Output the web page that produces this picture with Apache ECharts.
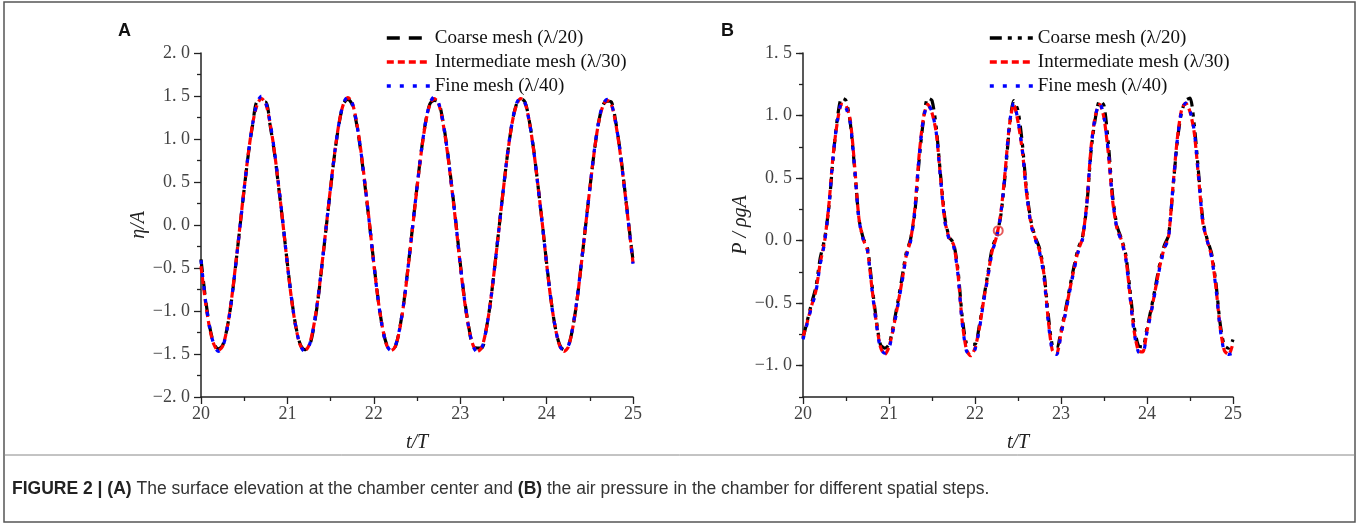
<!DOCTYPE html>
<html>
<head>
<meta charset="utf-8">
<script src="https://cdn.jsdelivr.net/npm/echarts@6/dist/echarts.min.js"></script>
<style>
html,body{margin:0;padding:0;background:#fff;}
#chart{width:1359px;height:525px;}
</style>
</head>
<body>
<div id="chart"></div>
<script>
// ---- data (t/T from 20 to 25, step 0.05) ----
const T_START = 20;
const T_STEP = 0.05;
const xTicks = [20, 21, 22, 23, 24, 25];
const legendNames = ['Coarse mesh (λ/20)', 'Intermediate mesh (λ/30)', 'Fine mesh (λ/40)'];
const captionBold1 = 'FIGURE 2 | (A)';
const captionText1 = ' The surface elevation at the chamber center and ';
const captionBold2 = '(B)';
const captionText2 = ' the air pressure in the chamber for different spatial steps.';

// Panel A: eta/A
const etaCoarse = [
 -0.40,-0.84,-1.18,-1.38,-1.44,-1.40,-1.21,-0.90,-0.48,-0.03, 0.42, 0.84, 1.18, 1.43, 1.43, 1.43, 1.16, 0.84, 0.43, 0.00,
 -0.45,-0.87,-1.19,-1.39,-1.45,-1.42,-1.22,-0.90,-0.47,-0.02, 0.43, 0.85, 1.19, 1.41, 1.46, 1.40, 1.18, 0.85, 0.44, 0.01,
 -0.44,-0.86,-1.19,-1.39,-1.44,-1.41,-1.20,-0.88,-0.46,-0.01, 0.44, 0.86, 1.20, 1.41, 1.45, 1.43, 1.21, 0.88, 0.47, 0.03,
 -0.44,-0.86,-1.19,-1.42,-1.43,-1.43,-1.22,-0.90,-0.48,-0.03, 0.42, 0.84, 1.18, 1.40, 1.47, 1.43, 1.21, 0.88, 0.46, 0.02,
 -0.44,-0.86,-1.19,-1.39,-1.45,-1.41,-1.21,-0.89,-0.47,-0.02, 0.42, 0.84, 1.18, 1.39, 1.44, 1.43, 1.20, 0.87, 0.45, 0.01,
 -0.41];
const etaInter = [
 -0.48,-0.88,-1.20,-1.39,-1.46,-1.41,-1.21,-0.89,-0.47,-0.02, 0.43, 0.85, 1.19, 1.40, 1.47, 1.41, 1.18, 0.85, 0.44, 0.00,
 -0.46,-0.88,-1.20,-1.40,-1.46,-1.40,-1.20,-0.88,-0.46,-0.01, 0.44, 0.86, 1.20, 1.41, 1.48, 1.42, 1.20, 0.87, 0.46, 0.02,
 -0.45,-0.87,-1.19,-1.40,-1.46,-1.41,-1.21,-0.89,-0.47,-0.02, 0.43, 0.85, 1.19, 1.40, 1.47, 1.41, 1.19, 0.86, 0.45, 0.01,
 -0.46,-0.88,-1.20,-1.40,-1.47,-1.42,-1.22,-0.90,-0.48,-0.03, 0.42, 0.84, 1.18, 1.39, 1.47, 1.42, 1.20, 0.87, 0.46, 0.02,
 -0.45,-0.87,-1.19,-1.40,-1.47,-1.42,-1.21,-0.89,-0.47,-0.02, 0.42, 0.84, 1.18, 1.38, 1.45, 1.40, 1.18, 0.85, 0.44, 0.00,
 -0.44];
const etaFine = [
 -0.41,-0.86,-1.19,-1.39,-1.47,-1.42,-1.22,-0.90,-0.48,-0.03, 0.42, 0.85, 1.19, 1.42, 1.50, 1.42, 1.19, 0.86, 0.45, 0.01,
 -0.46,-0.87,-1.20,-1.40,-1.47,-1.41,-1.20,-0.88,-0.46,-0.01, 0.44, 0.86, 1.20, 1.42, 1.49, 1.42, 1.19, 0.86, 0.45, 0.01,
 -0.45,-0.87,-1.20,-1.40,-1.46,-1.40,-1.20,-0.88,-0.46,-0.01, 0.44, 0.86, 1.20, 1.42, 1.49, 1.42, 1.20, 0.87, 0.46, 0.02,
 -0.45,-0.87,-1.20,-1.41,-1.48,-1.43,-1.22,-0.90,-0.48,-0.03, 0.42, 0.85, 1.19, 1.41, 1.48, 1.42, 1.20, 0.87, 0.45, 0.01,
 -0.45,-0.87,-1.19,-1.40,-1.46,-1.41,-1.20,-0.88,-0.46,-0.02, 0.42, 0.85, 1.19, 1.40, 1.46, 1.41, 1.19, 0.86, 0.44, 0.00,
 -0.45];

// Panel B: P/(rho g A)
const presCoarse = [
 -0.78,-0.64,-0.50,-0.37,-0.14, 0.01, 0.26, 0.66, 0.98, 1.14, 1.12, 0.94, 0.58, 0.18, 0.02,-0.06,-0.34,-0.62,-0.83,-0.86,
 -0.83,-0.68,-0.50,-0.30,-0.10, 0.01, 0.22, 0.64, 0.96, 1.14, 1.12, 0.90, 0.52, 0.18, 0.03,-0.02,-0.22,-0.60,-0.82,-0.83,
 -0.83,-0.68,-0.47,-0.26,-0.06, 0.04, 0.20, 0.52, 0.90, 1.12, 1.04, 0.78, 0.40, 0.16, 0.03,-0.06,-0.24,-0.58,-0.84,-0.86,
 -0.72,-0.56,-0.38,-0.21,-0.06, 0.03, 0.28, 0.72, 0.98, 1.12, 1.08, 0.78, 0.36, 0.12, 0.02,-0.10,-0.38,-0.68,-0.84,-0.85,
 -0.70,-0.54,-0.36,-0.18,-0.04, 0.04, 0.40, 0.78, 1.02, 1.12, 1.14, 0.92, 0.54, 0.16, 0.01,-0.10,-0.33,-0.66,-0.84,-0.86,
 -0.79];
const presInter = [
 -0.77,-0.65,-0.52,-0.40,-0.18,-0.01, 0.28, 0.68, 0.95, 1.09, 1.08, 0.96, 0.60, 0.18, 0.01,-0.08,-0.37,-0.64,-0.85,-0.91,
 -0.85,-0.70,-0.52,-0.33,-0.12, 0.00, 0.25, 0.68, 0.98, 1.09, 1.02, 0.86, 0.50, 0.16, 0.02,-0.03,-0.25,-0.64,-0.87,-0.92,
 -0.86,-0.70,-0.48,-0.28,-0.08, 0.03, 0.22, 0.55, 0.92, 1.09, 0.95, 0.72, 0.38, 0.14, 0.02,-0.08,-0.26,-0.62,-0.88,-0.90,
 -0.74,-0.58,-0.40,-0.23,-0.08, 0.02, 0.30, 0.75, 1.00, 1.09, 0.98, 0.70, 0.32, 0.10, 0.01,-0.12,-0.42,-0.72,-0.88,-0.89,
 -0.72,-0.56,-0.38,-0.20,-0.06, 0.03, 0.42, 0.80, 1.04, 1.10, 1.03, 0.86, 0.50, 0.14, 0.00,-0.12,-0.36,-0.69,-0.88,-0.91,
 -0.82];
const presFine = [
 -0.79,-0.66,-0.53,-0.41,-0.19,-0.02, 0.27, 0.67, 0.96, 1.10, 1.06, 0.94, 0.58, 0.17, 0.01,-0.08,-0.38,-0.65,-0.86,-0.90,
 -0.86,-0.71,-0.53,-0.34,-0.13,-0.01, 0.24, 0.67, 0.97, 1.09, 1.03, 0.86, 0.49, 0.15, 0.01,-0.04,-0.26,-0.65,-0.88,-0.91,
 -0.87,-0.71,-0.49,-0.29,-0.09, 0.02, 0.21, 0.54, 0.93, 1.10, 0.96, 0.73, 0.38, 0.13, 0.01,-0.09,-0.28,-0.64,-0.88,-0.91,
 -0.75,-0.59,-0.41,-0.24,-0.09, 0.01, 0.29, 0.74, 1.00, 1.10, 0.99, 0.71, 0.33, 0.10, 0.00,-0.13,-0.43,-0.73,-0.89,-0.90,
 -0.73,-0.57,-0.39,-0.21,-0.07, 0.02, 0.41, 0.79, 1.03, 1.10, 1.04, 0.87, 0.51, 0.14, 0.00,-0.13,-0.37,-0.70,-0.89,-0.91,
 -0.90];
// small red circle marker seen in panel B
const presMarker = [[22.27, 0.08]];

// ---- build ----
function pairs(vals) {
  return vals.map((v, i) => [+(T_START + i * T_STEP).toFixed(2), v]);
}
const SERIF = "'Liberation Serif', 'Times New Roman', serif";
const fmtTick = v => {
  const s = Math.abs(v).toFixed(1).replace('.', '. ');
  return (v < 0 ? '\u2212' : '') + s;
};
function xAxisCfg(gi) {
  return {
    type: 'value', gridIndex: gi, min: xTicks[0], max: xTicks[xTicks.length - 1], interval: 1,
    position: 'bottom',
    axisLine: { onZero: false, lineStyle: { color: '#222', width: 1.5 } },
    axisTick: { show: true, length: 7, inside: false, lineStyle: { color: '#222', width: 1.3 } },
    minorTick: { show: true, splitNumber: 2, length: 4, lineStyle: { color: '#222', width: 1.3 } },
    splitLine: { show: false },
    axisLabel: { margin: 8, color: '#444', fontFamily: SERIF, fontSize: 18 },
    name: 't/T', nameLocation: 'middle', nameGap: 36,
    nameTextStyle: { fontFamily: SERIF, fontStyle: 'italic', fontSize: 20, color: '#222' }
  };
}
const names2 = legendNames.map(n => n + ' ');
function legendCfg(names, left) {
  return {
    data: names, orient: 'vertical', left: left, top: 21,
    itemWidth: 43, itemHeight: 14, itemGap: 0, selectedMode: false,
    itemStyle: { opacity: 0, borderWidth: 0 },
    lineStyle: { width: 3.6 },
    textStyle: { fontFamily: SERIF, fontSize: 19, lineHeight: 24, color: '#111' }
  };
}
function lineSeries(name, xi, yi, vals, color, dash, smooth) {
  return {
    name: name, type: 'line', xAxisIndex: xi, yAxisIndex: yi, data: pairs(vals),
    showSymbol: false, symbol: 'none', smooth: smooth,
    itemStyle: { color: color },
    lineStyle: { color: color, width: 3.2, type: dash }
  };
}

const option = {
  backgroundColor: '#fff',
  animation: false,
  grid: [
    { left: 201, right: 726, top: 53, bottom: 128 },
    { left: 803, right: 126, top: 53, bottom: 128 }
  ],
  xAxis: [xAxisCfg(0), xAxisCfg(1)],
  yAxis: [
    {
      type: 'value', gridIndex: 0, min: -2, max: 2, interval: 0.5, position: 'left',
      axisLine: { show: true, onZero: false, lineStyle: { color: '#222', width: 1.5 } },
      axisTick: { show: true, length: 7, lineStyle: { color: '#222', width: 1.3 } },
      minorTick: { show: true, splitNumber: 2, length: 4, lineStyle: { color: '#222', width: 1.3 } },
      splitLine: { show: false },
      axisLabel: { margin: 11, color: '#444', fontFamily: SERIF, fontSize: 18, formatter: fmtTick },
      name: 'η/A', nameLocation: 'middle', nameGap: 49,
      nameTextStyle: { fontFamily: SERIF, fontStyle: 'italic', fontSize: 20, color: '#222' }
    },
    {
      type: 'value', gridIndex: 1, min: -1.25, max: 1.5, interval: 0.25, position: 'left',
      axisLine: { show: true, onZero: false, lineStyle: { color: '#222', width: 1.5 } },
      axisTick: { show: true, length: 4, lineStyle: { color: '#222', width: 1.3 } },
      splitLine: { show: false },
      axisLabel: {
        margin: 11, color: '#444', fontFamily: SERIF, fontSize: 18,
        formatter: v => (Math.abs(v * 2 - Math.round(v * 2)) < 1e-6 ? fmtTick(v) : '')
      },
      name: 'P / ρgA', nameLocation: 'middle', nameGap: 51,
      nameTextStyle: { fontFamily: SERIF, fontStyle: 'italic', fontSize: 20, color: '#222' }
    },
    {
      type: 'value', gridIndex: 1, min: -1.25, max: 1.5, interval: 0.25, position: 'left', offset: 0,
      axisLine: { show: false, onZero: false },
      axisTick: { show: true, length: 7, customValues: [-1, -0.5, 0, 0.5, 1, 1.5], lineStyle: { color: '#222', width: 1.3 } },
      splitLine: { show: false },
      axisLabel: { show: false }
    }
  ],
  legend: [legendCfg(legendNames, 380), legendCfg(names2, 983)],
  series: [
    lineSeries(legendNames[0], 0, 0, etaCoarse, '#000000', [13, 9], 0.3),
    lineSeries(legendNames[1], 0, 0, etaInter, '#ff0000', [7, 4], 0.3),
    lineSeries(legendNames[2], 0, 0, etaFine, '#0000ff', [4, 9], 0.3),
    lineSeries(names2[0], 1, 1, presCoarse, '#000000', [12, 6, 4, 6, 4, 6], 0.25),
    lineSeries(names2[1], 1, 1, presInter, '#ff0000', [7, 4], 0.25),
    lineSeries(names2[2], 1, 1, presFine, '#0000ff', [4, 9], 0.25),
    { type: 'scatter', xAxisIndex: 1, yAxisIndex: 1, data: presMarker, symbol: 'circle', symbolSize: 9,
      itemStyle: { color: 'rgba(255,255,255,0)', borderColor: '#e03030', borderWidth: 2 }, z: 5 }
  ],
  graphic: [
    { type: 'rect', shape: { x: 4, y: 2, width: 1351, height: 520 }, style: { fill: 'none', stroke: '#555', lineWidth: 1.5 }, silent: true },
    { type: 'line', shape: { x1: 4, y1: 455, x2: 1355, y2: 455 }, style: { stroke: '#888', lineWidth: 1 }, silent: true },
    { type: 'text', left: 118, top: 22, style: { text: 'A', font: "bold 18px 'Liberation Sans', Arial, sans-serif", fill: '#111' } },
    { type: 'text', left: 721, top: 22, style: { text: 'B', font: "bold 18px 'Liberation Sans', Arial, sans-serif", fill: '#111' } },
    { type: 'text', left: 12, top: 480, style: {
        text: '{b|' + captionBold1 + '}{n|' + captionText1 + '}{b|' + captionBold2 + '}{n|' + captionText2 + '}',
        rich: {
          b: { fontFamily: "'Liberation Sans', Arial, sans-serif", fontWeight: 'bold', fontSize: 17.5, fill: '#222' },
          n: { fontFamily: "'Liberation Sans', Arial, sans-serif", fontSize: 17.5, fill: '#333' }
        }
    } }
  ]
};
const chart = echarts.init(document.getElementById('chart'), null, { renderer: 'canvas' });
chart.setOption(option);
</script>
</body>
</html>
